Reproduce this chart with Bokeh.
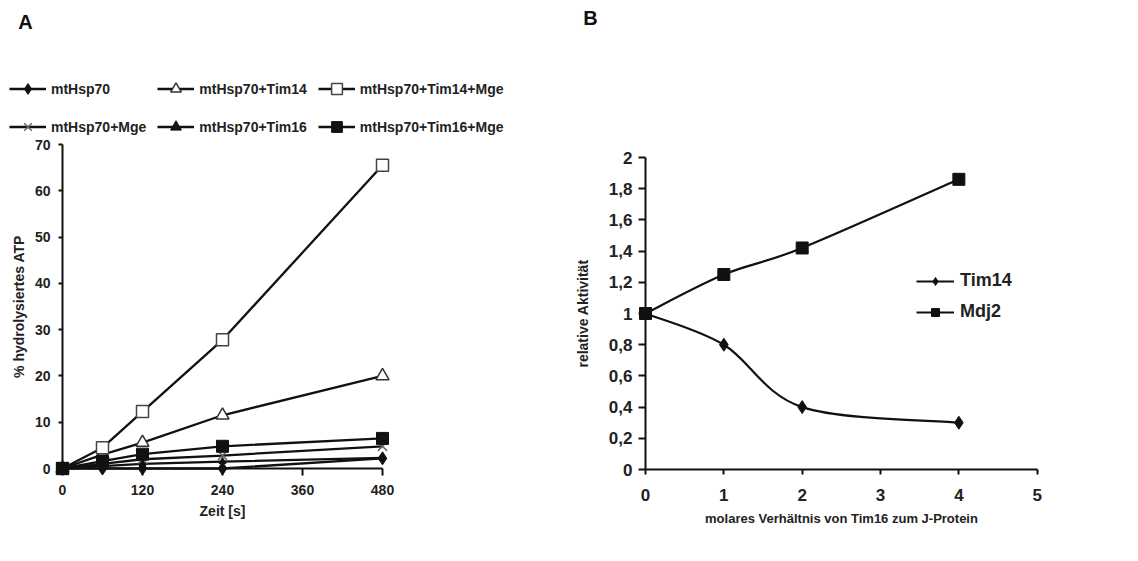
from bokeh.plotting import figure
from bokeh.layouts import row
from bokeh.models import Legend, LegendItem, FixedTicker, Range1d, Label
from bokeh.embed import file_html
from bokeh.resources import INLINE

# ---------------- data: panel A ----------------
time_s = [0, 60, 120, 240, 480]
a_names = ["mtHsp70", "mtHsp70+Tim14", "mtHsp70+Tim14+Mge",
           "mtHsp70+Mge", "mtHsp70+Tim16", "mtHsp70+Tim16+Mge"]
mtHsp70 = [0, 0, 0, 0, 2.2]
mtHsp70_Tim14 = [0, 3.0, 5.6, 11.5, 20.0]
mtHsp70_Tim14_Mge = [0, 4.5, 12.3, 27.8, 65.5]
mtHsp70_Mge = [0, 1.0, 2.0, 2.8, 4.8]
mtHsp70_Tim16 = [0, 0.5, 1.0, 1.5, 2.3]
mtHsp70_Tim16_Mge = [0, 1.6, 3.1, 4.8, 6.5]
A_X_TICKS = [0, 120, 240, 360, 480]
A_Y_TICKS = [0, 10, 20, 30, 40, 50, 60, 70]

# ---------------- data: panel B ----------------
ratio = [0, 1, 2, 4]
tim14 = [1.0, 0.8, 0.4, 0.3]
mdj2 = [1.0, 1.25, 1.42, 1.86]
B_X_TICKS = [0, 1, 2, 3, 4, 5]
B_Y_TICKS = [0, 0.2, 0.4, 0.6, 0.8, 1.0, 1.2, 1.4, 1.6, 1.8, 2.0]
B_Y_LABELS = ["0", "0,2", "0,4", "0,6", "0,8", "1", "1,2", "1,4", "1,6", "1,8", "2"]

FONT = "Liberation Sans"
INK = "#111111"
TXT = "#222222"
W, H = 569, 561


def style_axis(ax, ticks, bounds, tick_out, standoff, font_px, lab_px, lab_standoff):
    ax.fixed_location = 0
    ax.bounds = bounds
    ax.ticker = FixedTicker(ticks=ticks)
    ax.minor_tick_line_color = None
    ax.axis_line_color = INK
    ax.axis_line_width = 2
    ax.major_tick_line_color = INK
    ax.major_tick_line_width = 2
    ax.major_tick_in = 0
    ax.major_tick_out = tick_out
    ax.major_label_standoff = standoff
    ax.major_label_text_font = FONT
    ax.major_label_text_font_style = "bold"
    ax.major_label_text_font_size = f"{font_px}px"
    ax.major_label_text_color = TXT
    ax.axis_label_text_font = FONT
    ax.axis_label_text_font_style = "bold"
    ax.axis_label_text_font_size = f"{lab_px}px"
    ax.axis_label_text_color = TXT
    ax.axis_label_standoff = lab_standoff


def make_fig(x0_px, kx, y0_px, ky):
    """frame = whole canvas; data 0 sits at pixel (x0_px, y0_px)"""
    xr = Range1d(-x0_px / kx, (W - x0_px) / kx)
    yr = Range1d(-(H - y0_px) / ky, y0_px / ky)
    p = figure(width=W, height=H, x_range=xr, y_range=yr,
               min_border=0, output_backend="svg", toolbar_location=None,
               background_fill_color="white", border_fill_color="white",
               outline_line_color=None)
    p.grid.visible = False
    return p


# ================= Panel A =================
pa = make_fig(62, 320 / 480.0, 468, 324 / 70.0)
pa.xaxis.axis_label = "Zeit [s]"
pa.yaxis.axis_label = "% hydrolysiertes ATP"
style_axis(pa.xaxis[0], A_X_TICKS, (0, 480), 7, 9, 14, 14, 5)
style_axis(pa.yaxis[0], A_Y_TICKS, (0, 70), 4, 8, 14, 14, 5)

series_a = [mtHsp70, mtHsp70_Tim14, mtHsp70_Tim14_Mge,
            mtHsp70_Mge, mtHsp70_Tim16, mtHsp70_Tim16_Mge]
marker_a = [dict(marker="diamond", size=13, fill_color=INK, line_color=INK),
            dict(marker="triangle", size=13, fill_color="white", line_color="#333333", line_width=1.5),
            dict(marker="square", size=12, fill_color="white", line_color="#444444", line_width=1.5),
            dict(marker="x", size=13, fill_color=None, line_color="#666666", line_width=1.5),
            dict(marker="triangle", size=7, fill_color=INK, line_color=INK),
            dict(marker="square", size=12, fill_color=INK, line_color=INK)]

lines_a = [pa.line(time_s, ys, line_color=INK, line_width=2.3) for ys in series_a]
items_a = []
for name, ys, ln, mk in zip(a_names, series_a, lines_a, marker_a):
    sc = pa.scatter(time_s, ys, **mk)
    items_a.append(LegendItem(label=name, renderers=[ln, sc]))

leg_a = Legend(items=items_a, location=(9, H - 140), orientation="horizontal", ncols=3,
               glyph_width=37, glyph_height=27, spacing=11, label_standoff=5,
               padding=0, margin=0, background_fill_alpha=0, border_line_color=None,
               label_text_font=FONT, label_text_font_style="bold",
               label_text_font_size="14px", label_text_color=TXT)
pa.add_layout(leg_a)
pa.add_layout(Label(x=25, y=H - 21, x_units="screen", y_units="screen", text="A",
                    text_font=FONT, text_font_style="bold", text_font_size="20px",
                    text_color="#111111", text_align="center", text_baseline="middle"))

# ================= Panel B =================
pb = make_fig(645 - W, 391.7 / 5.0, 469, 312 / 2.0)
pb.xaxis.axis_label = "molares Verhältnis von Tim16 zum J-Protein"
pb.yaxis.axis_label = "relative Aktivität"
style_axis(pb.xaxis[0], B_X_TICKS, (0, 5), 5, 14, 17, 13, 7)
style_axis(pb.yaxis[0], B_Y_TICKS, (0, 2), 7, 6, 17, 14, 15)
pb.yaxis[0].major_label_overrides = {t: s for t, s in zip(B_Y_TICKS, B_Y_LABELS)}


def smooth_segments(xs, ys):
    n = len(xs)
    out = dict(x0=[], y0=[], x1=[], y1=[], cx0=[], cy0=[], cx1=[], cy1=[])
    for i in range(n - 1):
        im = max(i - 1, 0)
        ip = min(i + 2, n - 1)
        out["x0"].append(xs[i]); out["y0"].append(ys[i])
        out["x1"].append(xs[i + 1]); out["y1"].append(ys[i + 1])
        out["cx0"].append(xs[i] + (xs[i + 1] - xs[im]) / 6.0)
        out["cy0"].append(ys[i] + (ys[i + 1] - ys[im]) / 6.0)
        out["cx1"].append(xs[i + 1] - (xs[ip] - xs[i]) / 6.0)
        out["cy1"].append(ys[i + 1] - (ys[ip] - ys[i]) / 6.0)
    return out


items_b = []
for name, ys, mk in [("Tim14", tim14, dict(marker="diamond", size=13)),
                     ("Mdj2", mdj2, dict(marker="square", size=12))]:
    seg = smooth_segments(ratio, ys)
    bz = pb.bezier(line_color=INK, line_width=2.2, **seg)
    sc = pb.scatter(ratio, ys, fill_color=INK, line_color=INK, **mk)
    items_b.append(LegendItem(label=name, renderers=[bz, sc]))

leg_b = Legend(items=items_b, location=(916 - W, H - 322), orientation="vertical",
               glyph_width=38, glyph_height=20, spacing=10, label_standoff=6,
               padding=0, margin=0, background_fill_alpha=0, border_line_color=None,
               label_text_font=FONT, label_text_font_style="bold",
               label_text_font_size="18px", label_text_color=TXT)
pb.add_layout(leg_b)
pb.add_layout(Label(x=590 - W, y=H - 17, x_units="screen", y_units="screen", text="B",
                    text_font=FONT, text_font_style="bold", text_font_size="20px",
                    text_color="#111111", text_align="center", text_baseline="middle"))

layout = row(pa, pb, spacing=0)
open("out.html", "w").write(file_html(layout, INLINE))
